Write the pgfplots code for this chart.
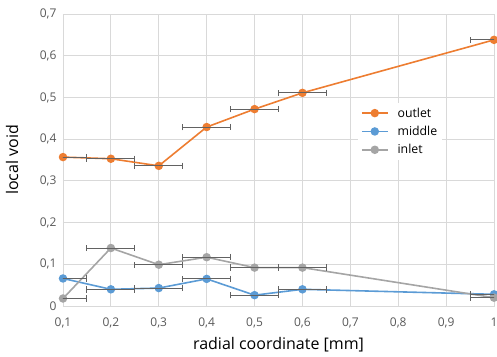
\documentclass[border=0pt]{standalone}
\usepackage{pgfplots}
\pgfplotsset{compat=1.18}
\usepackage{fontspec}
\setmainfont{Open Sans}
\definecolor{cOut}{HTML}{ED7D31}
\definecolor{cMid}{HTML}{5B9BD5}
\definecolor{cIn}{HTML}{A5A5A5}
\definecolor{cErr}{HTML}{626262}
\definecolor{gridc}{HTML}{D9D9D9}
\definecolor{tickc}{HTML}{595959}
\pgfplotstableread{
x y
0.1 0.357
0.2 0.353
0.3 0.336
0.4 0.429
0.5 0.472
0.6 0.511
1.0 0.638
}\tabOutlet
\pgfplotstableread{
x y
0.1 0.066
0.2 0.040
0.3 0.043
0.4 0.065
0.5 0.026
0.6 0.040
1.0 0.028
}\tabMiddle
\pgfplotstableread{
x y
0.1 0.018
0.2 0.139
0.3 0.099
0.4 0.117
0.5 0.092
0.6 0.092
1.0 0.020
}\tabInlet
\pgfplotsset{errstyle/.style={forget plot, draw=none, mark=none,
  error bars/.cd, x dir=both, x fixed=0.05,
  error bar style={draw=cErr, line width=1pt},
  error mark options={draw=cErr, rotate=90, mark size=3.2pt, line width=1pt}}}
\begin{document}
\begin{tikzpicture}
\path[use as bounding box] (-63pt,-50pt) rectangle (434pt,306pt);
\begin{axis}[
  at={(0,0)}, anchor=south west,
  scale only axis, width=431pt, height=292pt,
  xmin=0.1, xmax=1, ymin=0, ymax=0.7,
  xtick={0.1,0.2,0.3,0.4,0.5,0.6,0.7,0.8,0.9,1.0},
  ytick={0,0.1,0.2,0.3,0.4,0.5,0.6,0.7},
  grid=major, grid style={color=gridc, line width=0.8pt},
  axis line style={gridc, line width=0.8pt},
  tick style={draw=none},
  ticklabel style={font=\fontsize{12}{14}\selectfont, text=tickc},
  xticklabel style={yshift=-8pt},
  yticklabel style={xshift=-3pt},
  /pgf/number format/use comma,
  /pgf/number format/fixed,
  /pgf/number format/precision=1,
  /pgf/number format/assume math mode=true,
  xlabel={radial coordinate [mm]}, ylabel={local void},
  label style={font=\fontsize{16}{19}\selectfont, text=black},
  xlabel style={at={(axis description cs:0.5,-0.134)}, anchor=center},
  ylabel style={at={(axis description cs:-0.118,0.5)}, anchor=center},
  legend style={at={(rel axis cs:0.684,0.697)}, anchor=north west, draw=none, fill=white,
    font=\fontsize{12.3}{14}\selectfont, row sep=3.5pt, inner sep=3pt},
  legend cell align=left,
  legend image code/.code={\draw[mark repeat=2,mark phase=2] plot coordinates {(0pt,0pt) (13pt,0pt) (26pt,0pt)};},
  clip mode=individual,
]
\addplot[cOut, line width=1.6pt, mark=*, mark size=3.4pt, mark options={fill=cOut, draw=cOut}] table {\tabOutlet};
\addlegendentry{\hspace{7pt}outlet}
\addplot[cMid, line width=1.6pt, mark=*, mark size=3.4pt, mark options={fill=cMid, draw=cMid}] table {\tabMiddle};
\addlegendentry{\hspace{7pt}middle}
\addplot[cIn, line width=1.6pt, mark=*, mark size=3.4pt, mark options={fill=cIn, draw=cIn}] table {\tabInlet};
\addlegendentry{\hspace{7pt}inlet}
\addplot[errstyle] table {\tabOutlet};
\addplot[errstyle] table {\tabMiddle};
\addplot[errstyle] table {\tabInlet};
\end{axis}
\end{tikzpicture}
\end{document}
